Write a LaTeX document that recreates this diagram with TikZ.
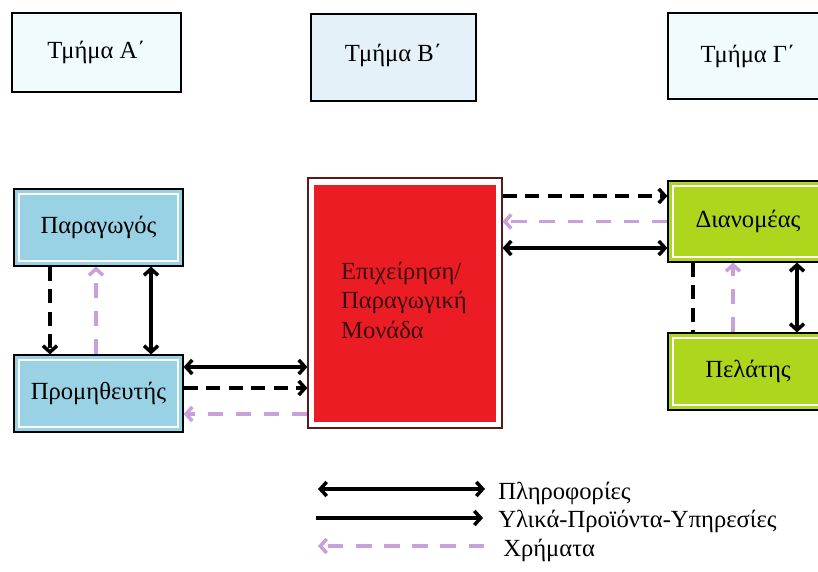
\documentclass[tikz,border=0pt]{standalone}
\usepackage{fontspec}
\setmainfont{Liberation Serif}
\usetikzlibrary{arrows.meta}
\definecolor{headfill}{HTML}{F0FBFE}
\definecolor{headfillb}{HTML}{E4F1F9}
\definecolor{bluefill}{HTML}{98D2E4}
\definecolor{firmred}{HTML}{EC1C24}
\definecolor{firmline}{HTML}{5A1A1A}
\definecolor{greenfill}{HTML}{AED61C}
\definecolor{money}{HTML}{C8A0DA}
\tikzset{
  head/.style={draw, thick, fill=headfill, minimum width=4.225cm, minimum height=1.975cm},
  part/.style={draw, thick, minimum width=4.225cm, minimum height=1.925cm,
    path picture={\draw[white, line width=1.8pt]
      ([shift={(3.5pt,-3.5pt)}]path picture bounding box.north west) rectangle
      ([shift={(-3.5pt,3.5pt)}]path picture bounding box.south east);}},
  infoflow/.style={draw, line width=2.5pt, {Straight Barb[length=4.5pt,width=10pt]}-{Straight Barb[length=4.5pt,width=10pt]}},
  matflow/.style={draw, line width=2.5pt, dash pattern=on 10pt off 6pt, -{Straight Barb[length=4.5pt,width=10pt]}},
  moneyflow/.style={draw, money, line width=2.5pt, dash pattern=on 11pt off 9pt, -{Straight Barb[length=4.5pt,width=10pt]}},
}
\begin{document}
\begin{tikzpicture}[x=0.025cm, y=-0.025cm, font=\fontsize{17.5}{21}\selectfont]
\useasboundingbox (0,0) rectangle (818,572);
\clip (0,0) rectangle (818,572);

% sections
\node[head] (tA) at (96.5,52.5) {Τμήμα Α΄};
\node[head, fill=headfillb, minimum width=4.125cm, minimum height=2.175cm, text depth=0.25cm] (tB) at (393.5,57.5) {Τμήμα Β΄};
\node[head, minimum width=4cm, minimum height=2.15cm] (tG) at (748,56) {Τμήμα Γ΄};

% participants
\node[part, fill=bluefill] (par) at (98.5,227.5) {Παραγωγός};
\node[part, fill=bluefill] (prom) at (98.5,393.5) {Προμηθευτής};
\node[draw=firmline, thick, fill=white, minimum width=4.85cm, minimum height=6.25cm,
  path picture={\fill[firmred]
    ([shift={(4pt,-5pt)}]path picture bounding box.north west) rectangle
    ([shift={(-4pt,4pt)}]path picture bounding box.south east);}] (firm) at (405,303) {};
\node[align=left, text=firmline!60!black] (firmtxt) at (404,300) {Επιχείρηση/\\Παραγωγική\\Μονάδα};
\node[part, fill=greenfill, minimum width=4cm, minimum height=2.025cm] (dian) at (748,221.5) {Διανομέας};
\node[part, fill=greenfill, minimum width=4cm] (pel) at (748,371.5) {Πελάτης};

% Paragogos - Promitheftis
\path[matflow] ([xshift=-1.2125cm]par.south) -- ([xshift=-1.2125cm]prom.north);
\path[moneyflow] ([xshift=-0.0625cm]prom.north) -- ([xshift=-0.0625cm]par.south);
\path[infoflow] ([xshift=1.3125cm]par.south) -- ([xshift=1.3125cm]prom.north);

% Promitheftis - Epixeirisi
\coordinate (pi) at ([yshift=0.6625cm]prom.east);
\coordinate (pm) at ([yshift=0.1375cm]prom.east);
\coordinate (pc) at ([yshift=-0.5125cm]prom.east);
\path[infoflow] (pi) -- (pi -| firm.west);
\path[matflow] (pm) -- (pm -| firm.west);
\path[moneyflow] (pc -| firm.west) -- (pc);

% Epixeirisi - Dianomeas
\coordinate (dm) at ([yshift=0.6375cm]dian.west);
\coordinate (dc) at (dian.west);
\coordinate (di) at ([yshift=-0.6625cm]dian.west);
\path[matflow] (dm -| firm.east) -- (dm);
\path[moneyflow] (dc) -- (dc -| firm.east);
\path[infoflow] (di -| firm.east) -- (di);

% Dianomeas - Pelatis
\path[draw, line width=2.5pt, dash pattern=on 10pt off 6pt] ([xshift=-1.375cm]dian.south) -- ([xshift=-1.375cm]pel.north);
\path[moneyflow] ([xshift=-0.375cm]pel.north) -- ([xshift=-0.375cm]dian.south);
\path[infoflow] ([xshift=1.225cm]dian.south) -- ([xshift=1.225cm]pel.north);

% legend
\coordinate (l1a) at (318,489);
\coordinate (l1b) at (485,489);
\coordinate (l2a) at (316,518);
\coordinate (l2b) at (483,518);
\coordinate (l3a) at (484,546);
\coordinate (l3b) at (318,546);
\path[infoflow] (l1a) -- (l1b);
\path[draw, line width=2.5pt, -{Straight Barb[length=4.5pt,width=10pt]}] (l2a) -- (l2b);
\path[moneyflow] (l3a) -- (l3b);
\node[anchor=west, inner sep=0pt] (leginfo) at (498,493) {Πληροφορίες};
\node[anchor=west, inner sep=0pt] (legmat) at (498,521) {Υλικά-Προϊόντα-Υπηρεσίες};
\node[anchor=west, inner sep=0pt] (legmoney) at (503,550) {Χρήματα};
\end{tikzpicture}
\end{document}
